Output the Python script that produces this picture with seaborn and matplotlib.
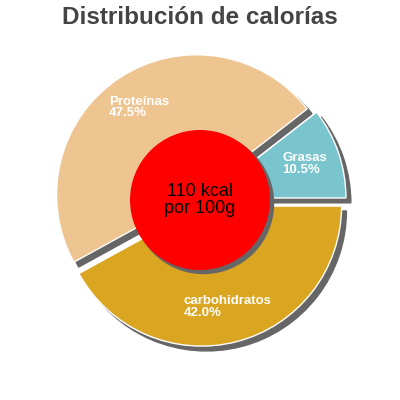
import matplotlib
matplotlib.use('Agg')
import matplotlib.pyplot as plt
import matplotlib.patches as mpatches
import seaborn as sns

nutrientes = ['Grasas', 'Proteínas', 'carbohidratos']
porcentajes = [10.5, 47.5, 42.0]
colores = ['#7AC5CD', '#EEC591', '#DAA520']
titulo = 'Distribución de calorías'
texto_centro = '110 kcal\npor 100g'

sns.set_theme(style='white')
plt.rcParams['font.family'] = ['Liberation Sans', 'DejaVu Sans']

fig = plt.figure(figsize=(4, 4), dpi=100)
ax = fig.add_axes([0, 0, 1, 1])

etiquetas = [f'{n}\n{p:.1f}%' for n, p in zip(nutrientes, porcentajes)]
sombra = {'ox': 0.025, 'oy': -0.025, 'facecolor': '#666666', 'edgecolor': '#666666', 'alpha': 1}
cunas, textos = ax.pie(porcentajes, labels=etiquetas, colors=colores,
                       explode=[0.045] * len(porcentajes), startangle=0,
                       labeldistance=0.745, shadow=sombra,
                       textprops={'color': 'white', 'fontsize': 9.5, 'fontweight': 'bold',
                                  'ha': 'center', 'multialignment': 'left',
                                  'linespacing': 0.95})

# circulo central con sombra
circulo = mpatches.Circle((0, 0), 0.5, facecolor='red', edgecolor='none', zorder=5)
ax.add_patch(mpatches.Shadow(circulo, 0.018, -0.018, facecolor='#666666',
                             edgecolor='#666666', alpha=1, zorder=4))
ax.add_patch(circulo)
ax.text(0, 0, texto_centro, ha='center', va='center', fontsize=13,
        color='black', zorder=6, linespacing=1.0)

lim = 200 / 140
ax.set_xlim(-lim, lim)
ax.set_ylim(-lim, lim)
ax.set_aspect('equal')
ax.axis('off')

fig.text(0.5, 1 - 18 / 400, titulo, ha='center', va='center', fontsize=17.5,
         fontweight='bold', color='#444444')

fig.savefig('out.png', dpi=100)
